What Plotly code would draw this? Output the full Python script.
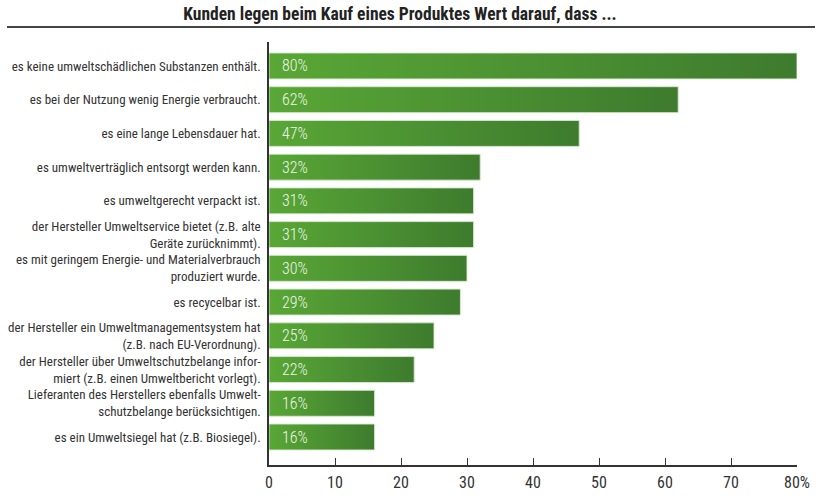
import plotly.graph_objects as go

title = "Kunden legen beim Kauf eines Produktes Wert darauf, dass ..."
categories = [
    "es keine umweltschädlichen Substanzen enthält.",
    "es bei der Nutzung wenig Energie verbraucht.",
    "es eine lange Lebensdauer hat.",
    "es umweltverträglich entsorgt werden kann.",
    "es umweltgerecht verpackt ist.",
    "der Hersteller Umweltservice bietet (z.B. alte<br>Geräte zurücknimmt).",
    "es mit geringem Energie- und Materialverbrauch<br>produziert wurde.",
    "es recycelbar ist.",
    "der Hersteller ein Umweltmanagementsystem hat<br>(z.B. nach EU-Verordnung).",
    "der Hersteller über Umweltschutzbelange infor-<br>miert (z.B. einen Umweltbericht vorlegt).",
    "Lieferanten des Herstellers ebenfalls Umwelt-<br>schutzbelange berücksichtigen.",
    "es ein Umweltsiegel hat (z.B. Biosiegel).",
]
values = [80, 62, 47, 32, 31, 31, 30, 29, 25, 22, 16, 16]
x_tickvals = [0, 10, 20, 30, 40, 50, 60, 70, 80]
x_ticktext = ["0", "10", "20", "30", "40", "50", "60", "70", "80%"]

FONT = "Roboto Condensed, DejaVu Sans Condensed, sans-serif"
half = 0.385

fig = go.Figure()
for i, v in enumerate(values):
    fig.add_trace(go.Scatter(
        x=[0, v, v, 0, 0],
        y=[i - half, i - half, i + half, i + half, i - half],
        mode="lines",
        fill="toself",
        fillgradient=dict(type="horizontal",
                          colorscale=[[0, "#59a736"], [1, "#3e7b2e"]]),
        line=dict(color="rgba(215,235,205,0.9)", width=1),
        hoverinfo="skip",
        showlegend=False,
    ))

annotations = [
    dict(x=0, y=i, xref="x", yref="y", text=f"{v}%", showarrow=False,
         xanchor="left", yanchor="middle", xshift=11,
         font=dict(family=FONT, size=16, color="#eef7e8", weight=300))
    for i, v in enumerate(values)
]

fig.update_layout(
    width=820, height=496,
    margin=dict(l=269, r=23, t=42, b=31),
    paper_bgcolor="white",
    plot_bgcolor="white",
    font=dict(family=FONT, color="#333333"),
    showlegend=False,
    xaxis=dict(
        range=[0, 80],
        tickvals=x_tickvals,
        ticktext=x_ticktext,
        ticks="inside",
        ticklen=7,
        tickwidth=1.2,
        tickcolor="#333333",
        showline=True,
        linecolor="#333333",
        linewidth=1.5,
        showgrid=False,
        zeroline=False,
        ticklabelstandoff=2,
        tickfont=dict(family=FONT, size=16, color="#333333", weight=400),
        fixedrange=True,
        automargin=False,
    ),
    yaxis=dict(
        range=[11.83, -0.71],
        tickvals=list(range(len(categories))),
        ticktext=categories,
        showline=True,
        linecolor="#333333",
        linewidth=1.5,
        showgrid=False,
        zeroline=False,
        ticks="",
        ticklabelstandoff=4,
        tickfont=dict(family=FONT, size=13, color="#333333"),
        fixedrange=True,
        automargin=False,
    ),
    title=dict(
        text=title,
        x=0.4878, xanchor="center",
        y=1 - 14 / 496, yanchor="middle",
        font=dict(family=FONT, size=17.5, color="#222222", weight=700),
    ),
    annotations=annotations,
    shapes=[dict(type="line", xref="paper", yref="paper",
                 x0=-262 / 528, x1=1 + 18 / 528,
                 y0=1 + 15 / 423, y1=1 + 15 / 423,
                 line=dict(color="#444444", width=2))],
)

fig.write_html("out.html")
